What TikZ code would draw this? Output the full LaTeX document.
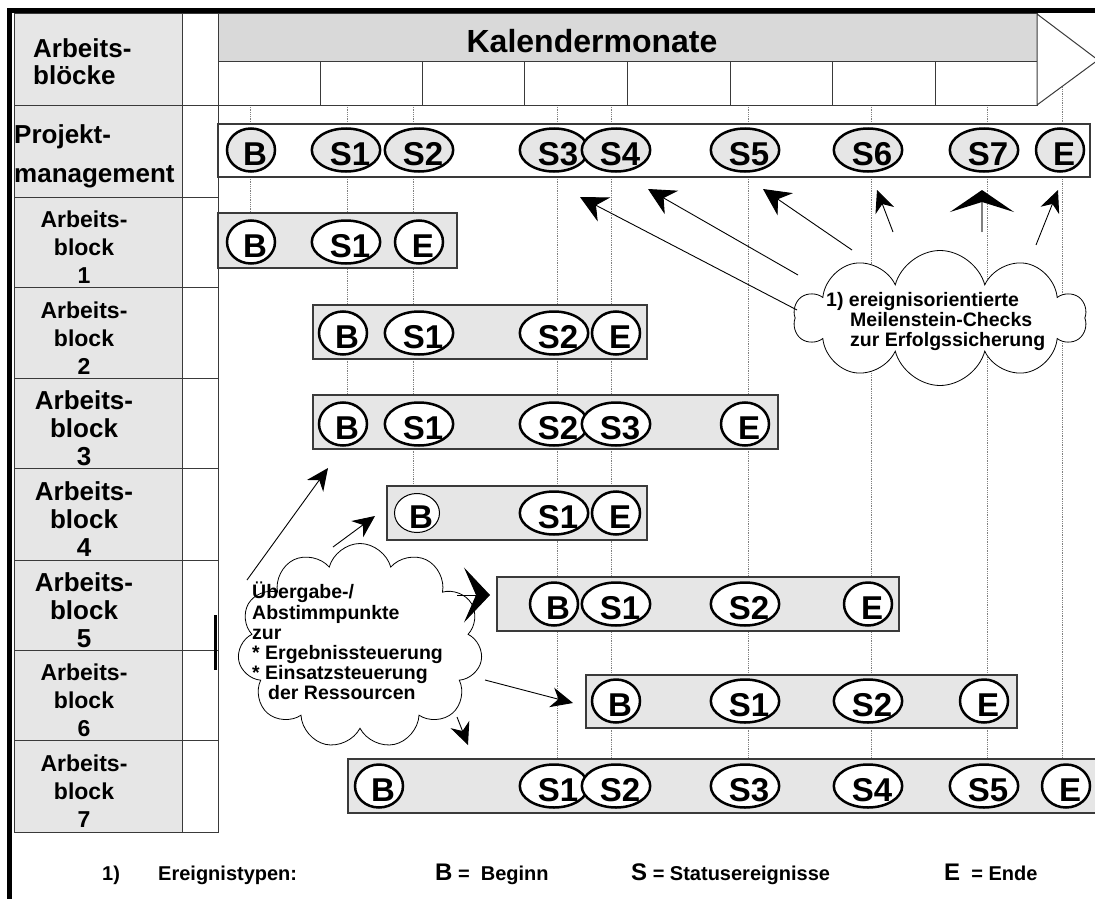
\documentclass[tikz,border=0pt]{standalone}
\usepackage{fontspec}
\setmainfont{Liberation Sans}
\usetikzlibrary{shapes,arrows.meta,positioning}
\definecolor{cellgray}{HTML}{E6E6E6}
\definecolor{headgray}{HTML}{D9D9D9}
\definecolor{rule}{HTML}{3A3A3A}
\newcommand{\fs}[2]{\fontsize{#1}{#2}\selectfont\bfseries}
\newcommand{\evl}[1]{\hspace*{8pt}\raisebox{-4pt}[\height][\depth]{#1}}

\begin{document}
\begin{tikzpicture}[x=1pt, y=-1pt,
  cell/.style={draw=rule, fill=#1, line width=1pt},
  bar/.style={draw=rule, fill=#1, line width=1.2pt},
  ev/.style={ellipse, draw, line width=2.5pt, fill=#1, minimum width=48pt, minimum height=43pt, inner sep=0pt, font=\fs{33}{33}},
  ev/.default=white,
  evthin/.style={ev=white, line width=1pt, minimum width=45pt, minimum height=39pt},
  lbl/.style={align=center, inner sep=0pt, font=\fs{#1}{28}},
  guide/.style={gray, densely dotted, line width=0.8pt},
  note/.style={align=left, inner sep=0pt, anchor=north west, font=\fs{19.5}{20.2}},
  cld/.style={cloud, draw, fill=white, line width=0.8pt, cloud puffs=#1},
  arr/.style={-{Stealth[length=27pt, width=27pt, inset=9pt]}, line width=0.9pt},
  sarr/.style={-{Stealth[length=22pt, width=20pt, inset=7pt]}, line width=0.9pt},
  leg/.style={anchor=base west, inner sep=0pt, font=\fs{20}{22}}
]
  \useasboundingbox (0,0) rectangle (1095,899);

  % guide lines
  \draw[guide] (250,105) -- (250,213);
  \draw[guide] (347,105) -- (347,395);
  \draw[guide] (413,105) -- (413,486);
  \foreach \x in {557,611,748,871,987} \draw[guide] (\x,105) -- (\x,759);
  \draw[guide] (1062,62) -- (1062,759);

  % left columns
  \foreach \ya/\yb in {14/105,105/197,197/287,287/378,378/468,468/560,560/650,650/740,740/832} {
    \draw[cell=cellgray] (14,\ya) rectangle (182,\yb);
    \draw[cell=white] (182,\ya) rectangle (218,\yb);
  }
  \draw[line width=3pt] (215,615) -- (215,670);

  % calendar header
  \draw[cell=headgray] (218,14) rectangle (1037,62);
  \foreach \xa/\xb in {218/320,320/422,422/524,524/627,627/730,730/832,832/935,935/1037}
    \draw[cell=white] (\xa,62) rectangle (\xb,105);
  \draw[cell=white] (1037,14) -- (1098,60) -- (1037,105) -- cycle;
  \node[anchor=base, inner sep=0pt, font=\fs{32}{32}] (kal) at (592,53) {Kalendermonate};

  \draw[line width=4.5pt] (9.5,899) -- (9.5,10.5) -- (1100,10.5);

  \node[anchor=north west, align=left, inner sep=0pt, font=\fs{26}{27}] (hdr) at (33,38) {Arbeits-\\blöcke};
  \node[anchor=north west, align=left, inner sep=0pt, font=\fs{26}{39}] (pm) at (14,124) {Projekt-\\management};
  \node[lbl=23] (r1) at (84,247) {Arbeits-\\block\\1};
  \node[lbl=23] (r2) at (84,338) {Arbeits-\\block\\2};
  \node[lbl=26] (r3) at (84,428) {Arbeits-\\block\\3};
  \node[lbl=26] (r4) at (84,519) {Arbeits-\\block\\4};
  \node[lbl=26] (r5) at (84,610) {Arbeits-\\block\\5};
  \node[lbl=23] (r6) at (84,700) {Arbeits-\\block\\6};
  \node[lbl=23] (r7) at (84,791) {Arbeits-\\block\\7};

  % bars
  \draw[bar=white] (218,124) rectangle (1090,177);
  \draw[bar=cellgray] (218,213) rectangle (457,268);
  \draw[bar=cellgray] (313,305) rectangle (647,359);
  \draw[bar=cellgray] (313,395) rectangle (778,449);
  \draw[bar=cellgray] (387,486) rectangle (647,540);
  \draw[bar=cellgray] (497,577) rectangle (899,631);
  \draw[bar=cellgray] (586,675) rectangle (1017,728);
  \draw[bar=cellgray] (348,759) rectangle (1100,813);

  % events
  \foreach \n/\x in {B/251,S1/346,S2/419,S3/554,S4/616,S5/745,S6/868,S7/984,E/1060}
    \node[ev=cellgray] (p\n) at (\x,150) {\evl{\n}};
  \foreach \n/\x in {B/251,S1/346,E/419}
    \node[ev] (a\n) at (\x,242) {\evl{\n}};
  \foreach \n/\x in {B/343,S1/419,S2/554,E/616}
    \node[ev] (b\n) at (\x,333) {\evl{\n}};
  \foreach \n/\x in {B/343,S1/419,S2/554,S3/616,E/745}
    \node[ev] (c\n) at (\x,424) {\evl{\n}};
  \node[evthin] (dB) at (417,513) {\evl{B}};
  \foreach \n/\x in {S1/554,E/616}
    \node[ev] (d\n) at (\x,513) {\evl{\n}};
  \foreach \n/\x in {B/554,S1/616,S2/745,E/868}
    \node[ev] (e\n) at (\x,604) {\evl{\n}};
  \foreach \n/\x in {B/616,S1/745,S2/868,E/984}
    \node[ev] (f\n) at (\x,701) {\evl{\n}};
  \foreach \n/\x in {B/379,S1/554,S2/616,S3/745,S4/868,S5/984,E/1066}
    \node[ev] (g\n) at (\x,786) {\evl{\n}};

  % clouds
  \node[cld=10, aspect=2.2, minimum width=292pt, minimum height=135pt] (uc) at (940,318) {};
  \node[cld=11, aspect=1.15, minimum width=245pt, minimum height=205pt] (lc) at (360,646) {};
  \node[note] (ut) at (826,292) {1) ereignisorientierte\\\hspace*{24pt}Meilenstein-Checks\\\hspace*{24pt}zur Erfolgssicherung};
  \node[note] (lt) at (252,582) {Übergabe-/\\Abstimmpunkte\\zur\\* Ergebnissteuerung\\* Einsatzsteuerung\\\hspace*{16pt}der Ressourcen};

  % milestone check arrows
  \coordinate (t3) at (797,310); \coordinate (h3) at (580,197);
  \coordinate (t4) at (798,275); \coordinate (h4) at (648,189);
  \coordinate (t5) at (852,250); \coordinate (h5) at (763,189);
  \coordinate (t6) at (893,232); \coordinate (h6) at (877,190);
  \coordinate (t7) at (982,232); \coordinate (h7) at (982,190);
  \coordinate (t8) at (1036,245); \coordinate (h8) at (1058,190);
  \draw[arr] (t3) -- (h3);
  \draw[arr] (t4) -- (h4);
  \draw[arr] (t5) -- (h5);
  \draw[sarr] (t6) -- (h6);
  \draw[-{Stealth[length=22pt, width=64pt, inset=10pt, color=black]}, line width=2pt, gray] (t7) -- (h7);
  \draw[sarr] (t8) -- (h8);

  % handover arrows
  \coordinate (l1) at (247,580); \coordinate (k1) at (328,468);
  \coordinate (l2) at (333,547); \coordinate (k2) at (375,516);
  \coordinate (l3) at (457,595); \coordinate (k3) at (490,595);
  \coordinate (l4) at (485,680); \coordinate (k4) at (573,703);
  \coordinate (l5) at (457,717); \coordinate (k5) at (468,745);
  \draw[sarr] (l1) -- (k1);
  \draw[sarr] (l2) -- (k2);
  \draw[-{Stealth[length=26pt, width=55pt, inset=12pt]}, line width=0.9pt] (l3) -- (k3);
  \draw[sarr] (l4) -- (k4);
  \draw[sarr] (l5) -- (k5);

  % legend
  \node[leg] (lg1) at (102,880) {1)};
  \node[leg] (lg2) at (158,880) {Ereignistypen:};
  \node[leg] (lg3) at (435,880) {{\fs{24}{24}B} = \ Beginn};
  \node[leg] (lg4) at (631,880) {{\fs{24}{24}S} = Statusereignisse};
  \node[leg] (lg5) at (944,880) {{\fs{24}{24}E} \ = Ende};
\end{tikzpicture}
\end{document}
